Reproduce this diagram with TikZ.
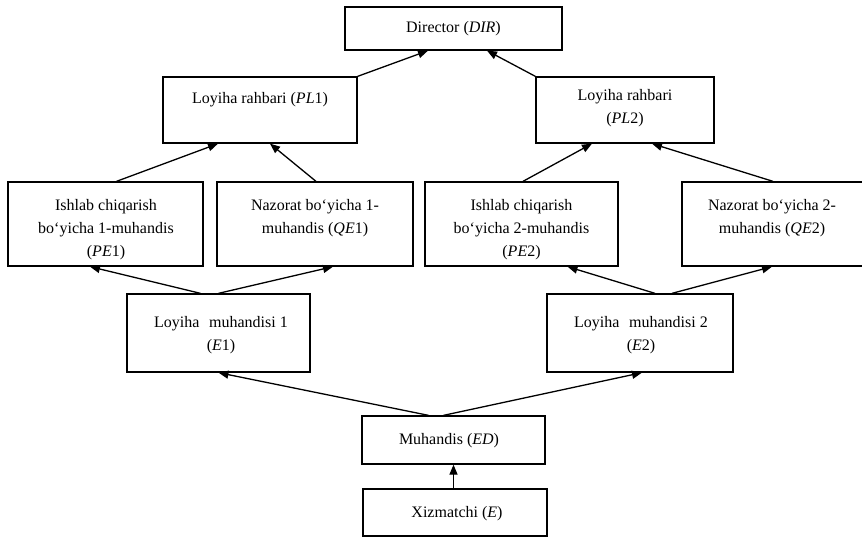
\documentclass[tikz,border=0pt]{standalone}
\usepackage{fontspec}
\setmainfont{Liberation Serif}
\usetikzlibrary{arrows.meta}
\begin{document}
\begin{tikzpicture}[x=1pt,y=-1pt,
  box/.style={draw, line width=1.3pt, inner sep=0pt},
  txt/.style={inner sep=0pt, align=center, font=\fontsize{16}{23}\selectfont},
  con/.style={line width=1.3pt, -{Triangle[length=10pt,width=8pt]}}]
\useasboundingbox (0,0) rectangle (862,543);
% boxes
\node[box, minimum width=217, minimum height=43] (dir) at (453.5,28.5) {};
\node[box, minimum width=194, minimum height=66] (pl1) at (260,110) {};
\node[box, minimum width=178, minimum height=66] (pl2) at (625,110) {};
\node[box, minimum width=195, minimum height=84] (pe1) at (105.5,224) {};
\node[box, minimum width=196, minimum height=84] (qe1) at (315,224) {};
\node[box, minimum width=193, minimum height=84] (pe2) at (521.5,224) {};
\node[box, minimum width=186, minimum height=84] (qe2) at (775,224) {};
\node[box, minimum width=183, minimum height=78] (e1) at (218.5,333) {};
\node[box, minimum width=186, minimum height=78] (e2) at (640,333) {};
\node[box, minimum width=183, minimum height=48] (ed) at (453.5,440) {};
\node[box, minimum width=184, minimum height=47] (xiz) at (455,512.5) {};
% texts
\node[txt] (dirt) at (453.5,28.5) {Director (\textit{DIR})};
\node[txt] (pl1t) at (260,100) {Loyiha rahbari (\textit{PL}1)};
\node[txt] (pl2t) at (625,108.5) {Loyiha rahbari\\(\textit{PL}2)};
\node[txt] (pe1t) at (106,230) {Ishlab chiqarish\\bo‘yicha 1-muhandis\\(\textit{PE}1)};
\node[txt] (qe1t) at (315,218.5) {Nazorat bo‘yicha 1-\\muhandis (\textit{QE}1)};
\node[txt] (pe2t) at (521.5,230) {Ishlab chiqarish\\bo‘yicha 2-muhandis\\(\textit{PE}2)};
\node[txt] (qe2t) at (772,218.5) {Nazorat bo‘yicha 2-\\muhandis (\textit{QE}2)};
\node[txt] (e1t) at (221,335.5) {Loyiha\hspace{0.6em}muhandisi 1\\(\textit{E}1)};
\node[txt] (e2t) at (641,335.5) {Loyiha\hspace{0.6em}muhandisi 2\\(\textit{E}2)};
\node[txt] (edt) at (449,441) {Muhandis (\textit{ED})};
\node[txt] (xizt) at (457,514) {Xizmatchi (\textit{E})};
% connectors
\draw[con] (pl1.north east) -- ([xshift=-25.5]dir.south);
\draw[con] (pl2.north west) -- ([xshift=33.5]dir.south);
\draw[con] ([xshift=11]pe1.north) -- ([xshift=-42]pl1.south);
\draw[con] ([xshift=1]qe1.north) -- ([xshift=10]pl1.south);
\draw[con] ([xshift=1.5]pe2.north) -- ([xshift=-33]pl2.south);
\draw[con] ([xshift=-2]qe2.north) -- ([xshift=27]pl2.south);
\draw[con] ([xshift=-18]e1.north) -- ([xshift=-15.5]pe1.south);
\draw[con] ([xshift=0]e1.north) -- ([xshift=18]qe1.south);
\draw[con] ([xshift=15]e2.north) -- ([xshift=46]pe2.south);
\draw[con] ([xshift=32]e2.north) -- ([xshift=-3]qe2.south);
\draw[con] ([xshift=-25]ed.north) -- ([xshift=0]e1.south);
\draw[con] ([xshift=-10]ed.north) -- ([xshift=2]e2.south);
\draw[con] (xiz.north -| ed.south) -- (ed.south);
\end{tikzpicture}
\end{document}
